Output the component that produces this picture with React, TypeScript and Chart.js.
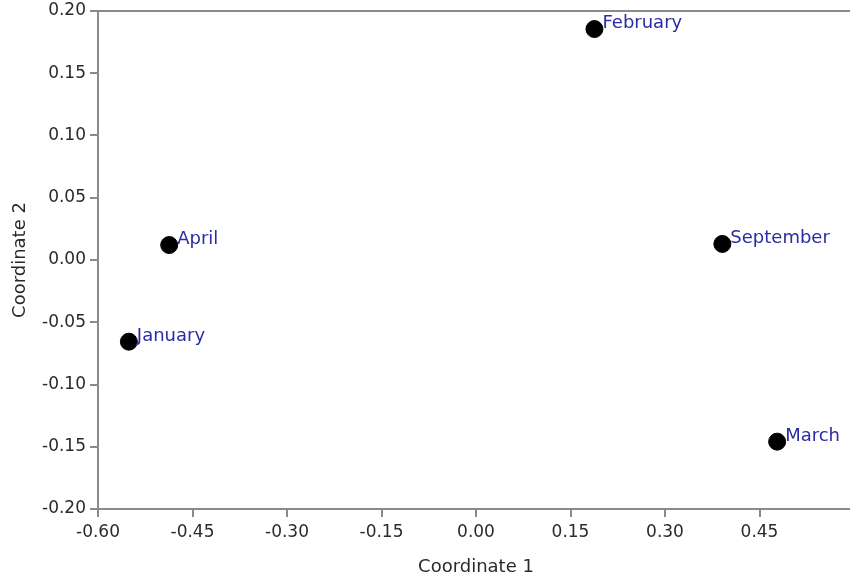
import React, { useEffect, useRef } from "react";
import { Chart, registerables } from "chart.js";

Chart.register(...registerables);

const months = ["February", "April", "January", "September", "March"];
const coord1 = [0.188, -0.487, -0.551, 0.391, 0.478];
const coord2 = [0.1855, 0.012, -0.0656, 0.0129, -0.1459];
const xTicks = [-0.6, -0.45, -0.3, -0.15, 0.0, 0.15, 0.3, 0.45];
const yTicks = [-0.2, -0.15, -0.1, -0.05, 0.0, 0.05, 0.1, 0.15, 0.2];

const FONT = "'DejaVu Sans', sans-serif";
const AXIS_GRAY = "#8a8a8a";
const TEXT = "#2a2a2a";

const labelPlugin = {
  id: "pointLabels",
  afterDatasetsDraw(chart: any) {
    const ctx = chart.ctx;
    const meta = chart.getDatasetMeta(0);
    ctx.save();
    ctx.font = `18px ${FONT}`;
    ctx.fillStyle = "#2b2ba3";
    ctx.textBaseline = "alphabetic";
    ctx.textAlign = "left";
    meta.data.forEach((el: any, i: number) => {
      ctx.fillText(months[i], el.x + 8, el.y - 1);
    });
    ctx.restore();
  },
};

const framePlugin = {
  id: "topFrame",
  afterDraw(chart: any) {
    const { ctx, chartArea } = chart;
    ctx.save();
    ctx.strokeStyle = AXIS_GRAY;
    ctx.lineWidth = 2;
    ctx.beginPath();
    ctx.moveTo(chartArea.left - 1, chartArea.top);
    ctx.lineTo(chartArea.right + 2, chartArea.top);
    ctx.stroke();
    ctx.restore();
  },
};

export default function App() {
  const ref = useRef<HTMLCanvasElement>(null);
  useEffect(() => {
    const chart = new Chart(ref.current!, {
      type: "scatter",
      data: {
        datasets: [
          {
            data: coord1.map((x, i) => ({ x, y: coord2[i] })),
            backgroundColor: "#000000",
            borderColor: "#000000",
            pointRadius: 8.5,
            pointHoverRadius: 8.5,
          },
        ],
      },
      options: {
        animation: false,
        responsive: false,
        maintainAspectRatio: false,
        layout: { autoPadding: false, padding: { left: 0, right: 0, top: 11, bottom: 0 } },
        plugins: { legend: { display: false }, tooltip: { enabled: false } },
        scales: {
          x: {
            type: "linear",
            min: -0.6,
            max: 0.6,
            afterBuildTicks: (scale: any) => {
              scale.ticks = xTicks.map((v) => ({ value: v }));
            },
            afterFit: (scale: any) => {
              scale.height = 69;
              scale.paddingLeft = 0;
              scale.paddingRight = 0;
            },
            grid: {
              drawOnChartArea: false,
              drawTicks: true,
              tickLength: 8,
              color: AXIS_GRAY,
              lineWidth: 2,
            },
            border: { display: true, color: AXIS_GRAY, width: 2 },
            ticks: {
              color: TEXT,
              font: { size: 17, family: FONT },
              padding: 5,
              maxRotation: 0,
              autoSkip: false,
              callback: (v: any) => Number(v).toFixed(2),
            },
            title: {
              display: true,
              text: "Coordinate 1",
              color: TEXT,
              font: { size: 18, family: FONT },
              padding: { top: 4, bottom: 0 },
            },
          },
          y: {
            type: "linear",
            min: -0.2,
            max: 0.2,
            afterBuildTicks: (scale: any) => {
              scale.ticks = yTicks.map((v) => ({ value: v }));
            },
            afterFit: (scale: any) => {
              scale.width = 98;
              scale.paddingTop = 0;
              scale.paddingBottom = 0;
            },
            grid: {
              drawOnChartArea: false,
              drawTicks: true,
              tickLength: 8,
              color: AXIS_GRAY,
              lineWidth: 2,
            },
            border: { display: true, color: AXIS_GRAY, width: 2 },
            ticks: {
              color: TEXT,
              font: { size: 17, family: FONT },
              padding: 4,
              autoSkip: false,
              callback: (v: any) => Number(v).toFixed(2),
            },
            title: {
              display: true,
              text: "Coordinate 2",
              color: TEXT,
              font: { size: 18, family: FONT },
              padding: { top: 10, bottom: 0 },
            },
          },
        },
      },
      plugins: [labelPlugin, framePlugin],
    });
    return () => chart.destroy();
  }, []);
  return (
    <div style={{ position: "fixed", left: 0, top: 0, width: 850, height: 578, overflow: "hidden", background: "#fff" }}>
      <canvas ref={ref} width={854} height={578} style={{ width: 854, height: 578, display: "block" }} />
    </div>
  );
}
